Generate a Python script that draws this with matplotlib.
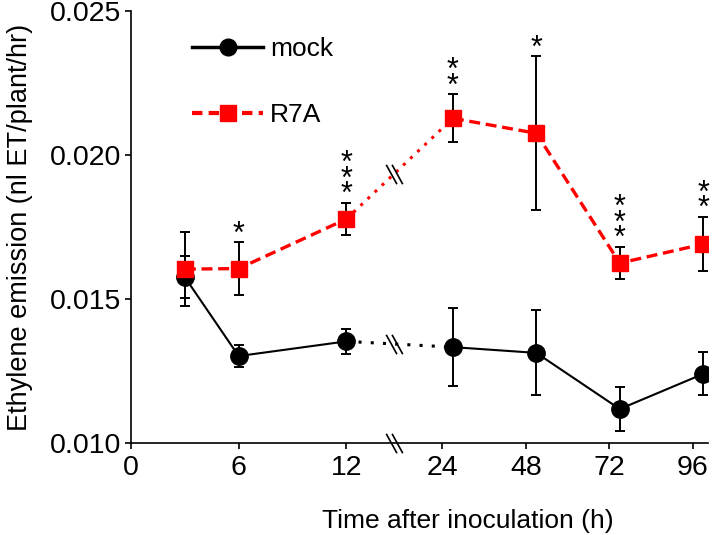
import numpy as np
import matplotlib
matplotlib.use('Agg')
from matplotlib import pyplot as plt
from matplotlib.lines import Line2D
from matplotlib.path import Path

plt.rcParams['font.family'] = ['Liberation Sans', 'DejaVu Sans']

# data (hours after inoculation, ethylene emission nl ET/plant/hr)
hours = [3, 6, 12, 27, 51, 75, 99]
mock = [0.01576, 0.01302, 0.01353, 0.01333, 0.01313, 0.01118, 0.01240]
mock_err = [0.00073, 0.00038, 0.00043, 0.00135, 0.00148, 0.00078, 0.00075]
r7a = [0.01604, 0.01606, 0.01778, 0.02128, 0.02076, 0.01625, 0.01691]
r7a_err = [0.00128, 0.00092, 0.00057, 0.00083, 0.00267, 0.00057, 0.00095]
stars = ['', '*', '***', '**', '*', '***', '**']
tick_hours = [0, 6, 12, 24, 48, 72, 96]
y_ticks = [0.010, 0.015, 0.020, 0.025]
break_hour = 18

# broken time axis: 0-12 h wide, 12-24 h squeezed, 24-96 h compressed
kh = np.array([-100, 0, 12, 24, 96, 1000], dtype=float)
kp = np.array([-1792, 0, 215, 311, 561, 561 + 904 * 3.472])


def fwd(h):
    return np.interp(h, kh, kp)


def inv(p):
    return np.interp(p, kp, kh)


fig, ax = plt.subplots(figsize=(7.12, 5.35), dpi=100)
fig.subplots_adjust(left=0.184, right=0.994, bottom=0.172, top=0.979)
ax.set_xscale('function', functions=(fwd, inv))
ax.set_xlim(0, 100.3)
ax.set_ylim(0.010, 0.025)

# lines: solid/dashed except dotted across the break
ax.plot(hours[:3], mock[:3], color='black', lw=1.5, zorder=2)
ax.plot(hours[3:], mock[3:], color='black', lw=1.5, zorder=2)
ax.plot(hours[2:4], mock[2:4], color='black', lw=2.2, dashes=(1, 3), zorder=2)
ax.plot(hours[:3], r7a[:3], color='red', lw=2.4, dashes=(3.3, 1.7), zorder=4)
ax.plot(hours[3:], r7a[3:], color='red', lw=2.4, dashes=(3.3, 1.7), zorder=4)
ax.plot(hours[2:4], r7a[2:4], color='red', lw=2.2, dashes=(1, 2.2), zorder=4)

# error bars
ax.errorbar(hours, mock, yerr=mock_err, fmt='none', ecolor='black',
            elinewidth=1.4, capsize=3.6, capthick=1.4, zorder=1)
ax.errorbar(hours, r7a, yerr=r7a_err, fmt='none', ecolor='black',
            elinewidth=1.4, capsize=3.6, capthick=1.4, zorder=3)

# markers
ax.plot(hours, mock, ls='none', marker='o', ms=12.5, color='black', zorder=5)
ax.plot(hours, r7a, ls='none', marker='s', ms=11, color='red', zorder=6)

# significance stars
for h, v, e, s in zip(hours, r7a, r7a_err, stars):
    if s:
        ax.annotate('\n'.join(s), (h, v + e), xytext=(0, -5.5),
                    textcoords='offset points', ha='center', va='bottom',
                    fontsize=22, linespacing=0.38)

# break marks "\\"
brk = Path([(-0.85, 1), (0.25, -1), (-0.25, 1), (0.85, -1)],
           [Path.MOVETO, Path.LINETO, Path.MOVETO, Path.LINETO])
frac = (fwd(break_hour) - fwd(hours[2])) / (fwd(hours[3]) - fwd(hours[2]))
for series in (mock, r7a):
    yb = series[2] + frac * (series[3] - series[2])
    ax.plot([break_hour], [yb], ls='none', marker=brk, ms=14, mew=1.2,
            color='black', zorder=7)
ax.plot([break_hour], [0.010], ls='none', marker=brk, ms=14, mew=1.2,
        color='black', clip_on=False, zorder=7)

ax.set_xticks(tick_hours)
ax.set_xticklabels([str(t) for t in tick_hours])
ax.xaxis.set_minor_locator(matplotlib.ticker.NullLocator())
ax.set_yticks(y_ticks)
ax.set_yticklabels(['%.3f' % v for v in y_ticks])
ax.tick_params(labelsize=20.5, width=1.2, length=4, direction='out')
ax.tick_params(axis='y', pad=3)
ax.tick_params(axis='x', pad=5)
for side in ('top', 'right'):
    ax.spines[side].set_visible(False)
for side in ('left', 'bottom'):
    ax.spines[side].set_linewidth(1.2)

ax.set_xlabel('Time after inoculation (h)', fontsize=19, labelpad=16)
ax.xaxis.set_label_coords(0.584, -0.152)
ax.set_ylabel('Ethylene emission (nl ET/plant/hr)', fontsize=19.5, labelpad=12)

handles = [
    Line2D([], [], color='black', lw=2.5, marker='o', ms=12),
    Line2D([], [], color='red', lw=3, dashes=(2.5, 1.5), marker='s', ms=11),
]
ax.legend(handles, ['mock', 'R7A'], loc='upper left', bbox_to_anchor=(0.065, 0.995),
          frameon=False, fontsize=19, handlelength=2.7, labelspacing=1.6,
          handletextpad=0.25)

plt.savefig('out.png', dpi=100)
